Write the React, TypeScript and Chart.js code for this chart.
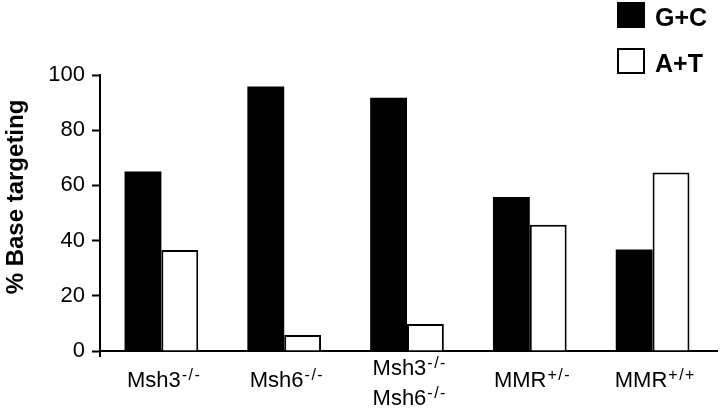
import React, { useEffect, useRef } from "react";
import { Chart, registerables } from "chart.js";

Chart.register(...registerables);

// ---- Data ----
const categories = ["Msh3-/-", "Msh6-/-", "Msh3-/- Msh6-/-", "MMR+/-", "MMR+/+"];
// each category label: lines of [main text, superscript]
const categoryLines: [string, string][][] = [
  [["Msh3", "-/-"]],
  [["Msh6", "-/-"]],
  [["Msh3", "-/-"], ["Msh6", "-/-"]],
  [["MMR", "+/-"]],
  [["MMR", "+/+"]],
];
const seriesNames = ["G+C", "A+T"];
const gcValues = [65, 95.8, 91.8, 55.8, 36.8];
const atValues = [36.6, 5.8, 9.8, 45.7, 64.7];
const yTicks = [0, 20, 40, 60, 80, 100];
const yTitle = "% Base targeting";

const FONT = "'Liberation Sans', Arial, Helvetica, sans-serif";

const customDraw = {
  id: "customDraw",
  afterDraw(chart: any) {
    const ctx = chart.ctx as CanvasRenderingContext2D;
    const xScale = chart.scales.x;
    const area = chart.chartArea;
    ctx.save();
    ctx.fillStyle = "#000";
    ctx.strokeStyle = "#000";
    ctx.textBaseline = "alphabetic";
    ctx.textAlign = "left";

    // axis extension and stub
    ctx.lineWidth = 2;
    ctx.beginPath();
    ctx.moveTo(area.right, area.bottom);
    ctx.lineTo(area.right + 4, area.bottom);
    ctx.moveTo(area.left, area.bottom);
    ctx.lineTo(area.left, area.bottom + 6);
    ctx.stroke();

    // x labels with superscripts
    const SUP_GAP = 1;
    const SUP_SPACING = 1.5;
    categoryLines.forEach((lines, i) => {
      const cx = xScale.getPixelForValue(i) + 2;
      const baselines =
        lines.length === 1 ? [area.bottom + 36] : [area.bottom + 24, area.bottom + 54];
      lines.forEach(([main, sup], j) => {
        ctx.font = `22px ${FONT}`;
        const wMain = ctx.measureText(main).width;
        ctx.font = `16px ${FONT}`;
        const chars = sup.split("");
        const cw = chars.map((c) => ctx.measureText(c).width);
        const wSup = cw.reduce((a, b) => a + b, 0) + SUP_SPACING * (chars.length - 1);
        const total = wMain + SUP_GAP + wSup;
        const x0 = cx - total / 2;
        const by = baselines[j];
        ctx.font = `22px ${FONT}`;
        ctx.fillText(main, x0, by);
        ctx.font = `16px ${FONT}`;
        let sx = x0 + wMain + SUP_GAP;
        chars.forEach((c, k) => {
          ctx.fillText(c, sx, by - 7);
          sx += cw[k] + SUP_SPACING;
        });
      });
    });

    // y title
    ctx.save();
    ctx.translate(23, 197);
    ctx.rotate(-Math.PI / 2);
    ctx.font = `bold 24px ${FONT}`;
    ctx.textAlign = "center";
    ctx.fillText(yTitle, 0, 0);
    ctx.restore();

    // legend
    const legendItems = [
      { name: seriesNames[0], fill: "#000", y: 2 },
      { name: seriesNames[1], fill: "#fff", y: 48 },
    ];
    legendItems.forEach((it) => {
      ctx.fillStyle = it.fill;
      ctx.fillRect(617, it.y, 28, 26);
      ctx.strokeStyle = "#000";
      ctx.lineWidth = 2;
      ctx.strokeRect(618, it.y + 1, 26, 24);
      ctx.fillStyle = "#000";
      ctx.font = `bold 25px ${FONT}`;
      ctx.textAlign = "left";
      ctx.fillText(it.name, 655, it.y + 24);
    });
    ctx.restore();
  },
};

export default function App() {
  const canvasRef = useRef<HTMLCanvasElement | null>(null);

  useEffect(() => {
    if (!canvasRef.current) return;
    const chart = new Chart(canvasRef.current, {
      type: "bar",
      data: {
        labels: categories,
        datasets: [
          {
            label: seriesNames[0],
            data: gcValues,
            backgroundColor: "#000",
            borderColor: "#000",
            borderWidth: 0,
            categoryPercentage: 0.6,
            barPercentage: 1.0,
          },
          {
            label: seriesNames[1],
            data: atValues,
            backgroundColor: "#fff",
            borderColor: "#000",
            borderWidth: 2,
            categoryPercentage: 0.6,
            barPercentage: 1.0,
          },
        ],
      },
      options: {
        animation: false,
        responsive: false,
        maintainAspectRatio: false,
        layout: { padding: { top: 75, right: 6, left: 0, bottom: 0 } },
        plugins: {
          legend: { display: false },
          tooltip: { enabled: false },
          title: { display: false },
        },
        scales: {
          x: {
            grid: { display: false, drawTicks: false },
            border: { display: true, color: "#000", width: 2 },
            ticks: { display: false },
            afterFit(scale: any) {
              scale.height = 60;
            },
          },
          y: {
            min: 0,
            max: 100,
            afterBuildTicks(scale: any) {
              scale.ticks = yTicks.map((v) => ({ value: v }));
            },
            grid: {
              drawOnChartArea: false,
              drawTicks: true,
              tickLength: 8,
              tickWidth: 2,
              tickColor: "#000",
            },
            border: { display: true, color: "#000", width: 2 },
            ticks: {
              color: "#000",
              padding: 7,
              font: { family: FONT, size: 22 },
            },
            afterFit(scale: any) {
              scale.width = 100;
            },
          },
        },
      },
      plugins: [customDraw],
    });
    return () => chart.destroy();
  }, []);

  return (
    <div style={{ position: "fixed", left: 0, top: 0, width: 720, height: 411, background: "#fff" }}>
      <canvas ref={canvasRef} width={720} height={411} />
    </div>
  );
}
